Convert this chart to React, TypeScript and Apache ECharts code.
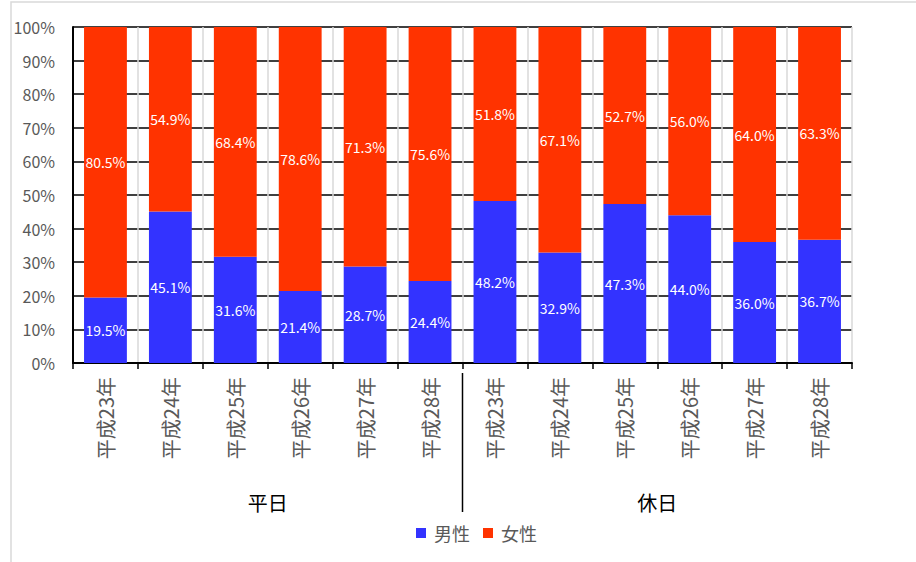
import React, { useEffect, useRef } from "react";
import * as echarts from "echarts";

const categories = ["平成23年", "平成24年", "平成25年", "平成26年", "平成27年", "平成28年", "平成23年", "平成24年", "平成25年", "平成26年", "平成27年", "平成28年"];
const groups = ["平日", "休日"];
const maleValues = [19.5, 45.1, 31.6, 21.4, 28.7, 24.4, 48.2, 32.9, 47.3, 44.0, 36.0, 36.7];
const femaleValues = [80.5, 54.9, 68.4, 78.6, 71.3, 75.6, 51.8, 67.1, 52.7, 56.0, 64.0, 63.3];
const seriesNames = ["男性", "女性"];

const FONT = '"Noto Sans CJK JP", "Noto Sans", sans-serif';

export default function App() {
  const ref = useRef<HTMLDivElement>(null);
  useEffect(() => {
    if (!ref.current) return;
    const chart = echarts.init(ref.current, null, { renderer: "svg" });
    const label = {
      show: true,
      position: "inside",
      color: "#ffffff",
      fontSize: 14,
      fontWeight: "normal",
      fontFamily: FONT,
      formatter: (p: any) => Number(p.value).toFixed(1) + "%",
    };
    chart.setOption({
      animation: false,
      backgroundColor: "#ffffff",
      textStyle: { fontFamily: FONT },
      grid: { left: 73, right: 64, top: 27, bottom: 199, containLabel: false },
      legend: {
        bottom: 15,
        left: 411,
        itemWidth: 10,
        itemHeight: 10,
        itemGap: 13,
        icon: "rect",
        textStyle: { color: "#595959", fontSize: 18, fontFamily: FONT, padding: [0, 0, 0, 3] },
        data: seriesNames,
      },
      xAxis: {
        type: "category",
        data: categories,
        boundaryGap: true,
        axisLine: { lineStyle: { color: "#000", width: 2 } },
        axisTick: { show: true, length: 6, alignWithLabel: false, lineStyle: { color: "#000", width: 1.5 } },
        splitLine: { show: true, lineStyle: { color: "#d9d9d9", width: 1.5 } },
        axisLabel: { rotate: 90, margin: 14, color: "#595959", fontSize: 20, fontFamily: FONT },
      },
      yAxis: {
        type: "value",
        min: 0,
        max: 100,
        interval: 10,
        axisLine: { show: true, lineStyle: { color: "#000", width: 2 } },
        axisTick: { show: false },
        splitLine: { show: true, lineStyle: { color: "#000", width: 1.5 } },
        axisLabel: { formatter: "{value}%", color: "#595959", fontSize: 16, margin: 18, fontFamily: FONT },
      },
      series: [
        { name: seriesNames[0], type: "bar", stack: "total", data: maleValues, barCategoryGap: "34%", itemStyle: { color: "#3333ff" }, label },
        { name: seriesNames[1], type: "bar", stack: "total", data: femaleValues, barCategoryGap: "34%", itemStyle: { color: "#ff3300" }, label },
      ],
    });

    const half = categories.length / 2;
    const c0 = chart.convertToPixel({ xAxisIndex: 0 }, 0) as number;
    const c1 = chart.convertToPixel({ xAxisIndex: 0 }, 1) as number;
    const step = c1 - c0;
    const axisY = chart.convertToPixel({ yAxisIndex: 0 }, 0) as number;
    const sepX = c0 + (half - 0.5) * step;
    const g1x = c0 + ((half - 1) / 2) * step;
    const g2x = c0 + (half + (half - 1) / 2) * step;
    chart.setOption({
      graphic: [
        { type: "rect", shape: { x: 11, y: 2, width: 1000, height: 700 }, style: { fill: "none", stroke: "#d9d9d9", lineWidth: 1.5 }, silent: true, z: 0 },
        { type: "line", shape: { x1: sepX, y1: axisY + 10, x2: sepX, y2: axisY + 149 }, style: { stroke: "#000", lineWidth: 1.5 } },
        { type: "text", x: g1x, y: axisY + 139, style: { text: groups[0], fill: "#000", fontSize: 20, fontFamily: FONT, align: "center", verticalAlign: "middle" } },
        { type: "text", x: g2x, y: axisY + 139, style: { text: groups[1], fill: "#000", fontSize: 20, fontFamily: FONT, align: "center", verticalAlign: "middle" } },
      ],
    });
    return () => chart.dispose();
  }, []);
  return <div ref={ref} style={{ position: "absolute", left: 0, top: 0, width: 916, height: 562 }} />;
}
